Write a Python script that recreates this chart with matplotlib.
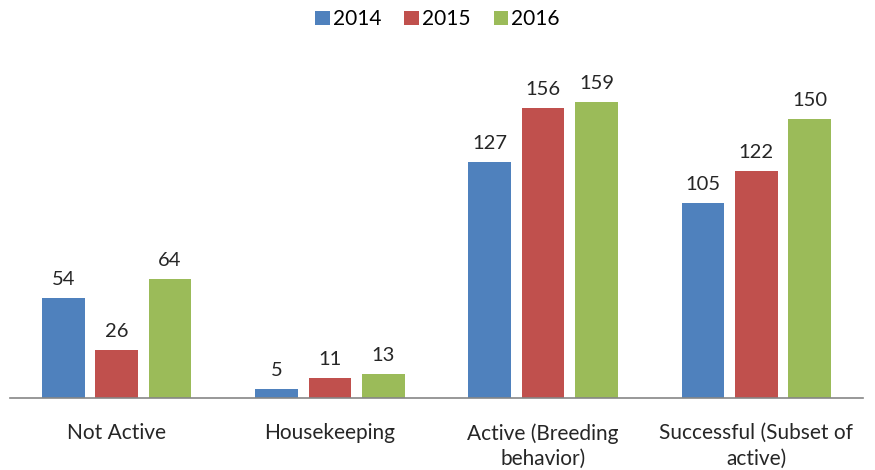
import matplotlib.pyplot as plt
import numpy as np

plt.rcParams["font.family"] = ["Lato", "DejaVu Sans"]

categories = ["Not Active", "Housekeeping", "Active (Breeding\nbehavior)",
              "Successful (Subset of\nactive)"]
years = ["2014", "2015", "2016"]
v2014 = [54, 5, 127, 105]
v2015 = [26, 11, 156, 122]
v2016 = [64, 13, 159, 150]
colors = ["#4F81BD", "#C0504D", "#9BBB59"]

fig = plt.figure(figsize=(8.75, 4.7), dpi=100)
ax = fig.add_axes([10 / 875, 72 / 470, 853 / 875, 335 / 470])

x = np.arange(len(categories))
width = 0.2
step = 0.25
for i, (vals, yr, c) in enumerate(zip([v2014, v2015, v2016], years, colors)):
    bars = ax.bar(x + (i - 1) * step, vals, width, color=c, label=yr)
    ax.bar_label(bars, padding=7, fontsize=14.5, color="#262626")

ax.set_xlim(-0.5, 3.5)
ax.set_ylim(0, 180)
ax.set_xticks(x)
ax.set_xticklabels(categories, fontsize=15, color="#262626", linespacing=1.35)
ax.tick_params(axis="x", length=0, pad=18)
ax.set_yticks([])
for s in ["top", "right", "left"]:
    ax.spines[s].set_visible(False)
ax.spines["bottom"].set_color("#868686")
ax.spines["bottom"].set_linewidth(1.2)

fig.legend(loc="upper center", bbox_to_anchor=(0.5, 1.02), ncol=3, frameon=False,
           fontsize=15, handlelength=0.7, handleheight=0.7, handletextpad=0.15,
           columnspacing=1.1)

fig.savefig("out.png")
